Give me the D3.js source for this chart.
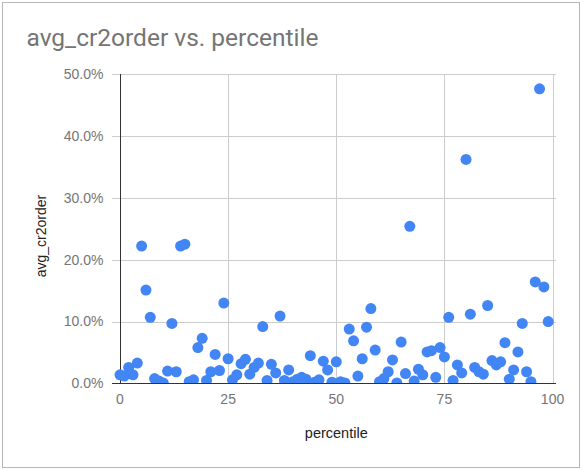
<!DOCTYPE html>
<html>
<head>
<meta charset="utf-8">
<script src="https://cdn.jsdelivr.net/npm/d3@7"></script>
<style>
  html, body { margin: 0; padding: 0; background: #fff; }
  svg { display: block; }
</style>
</head>
<body>
<svg id="chart" width="583" height="470"></svg>
<script>
const percentile = d3.range(0, 100);
const avgCr2order = [
  1.4, 1.2, 2.6, 1.4, 3.3, 22.2, 15.1, 10.7, 0.8, 0.4,
  0.1, 2.0, 9.7, 1.9, 22.2, 22.5, 0.3, 0.6, 5.8, 7.3,
  0.5, 1.9, 4.7, 2.1, 13.0, 4.0, 0.6, 1.4, 3.2, 3.9,
  1.5, 2.6, 3.3, 9.2, 0.5, 3.1, 1.7, 10.9, 0.5, 2.2,
  0.3, 0.7, 1.0, 0.7, 4.5, 0.2, 0.6, 3.6, 2.2, 0.2,
  3.5, 0.3, 0.1, 8.8, 6.9, 1.2, 4.0, 9.1, 12.1, 5.4,
  0.3, 0.8, 1.9, 3.8, 0.1, 6.7, 1.6, 25.4, 0.4, 2.3,
  1.4, 5.1, 5.3, 1.0, 5.8, 4.3, 10.7, 0.5, 3.0, 1.7,
  36.2, 11.2, 2.6, 1.9, 1.5, 12.6, 3.7, 3.0, 3.5, 6.6,
  0.7, 2.2, 5.1, 9.7, 1.9, 0.3, 16.4, 47.6, 15.6, 10.0
];
const xTicks = [0, 25, 50, 75, 100];
const yTicks = [0, 10, 20, 30, 40, 50];
const titleText = "avg_cr2order vs. percentile";
const xTitle = "percentile";
const yTitle = "avg_cr2order";

(function () {
const data = percentile.map((p, i) => ({ x: p, y: avgCr2order[i] }));

const svg = d3.select("#chart");
const pLeft = 112, pRight = 556, pTop = 74, pBottom = 383.5;

const x = d3.scaleLinear().domain([-1.85, 100.8]).range([pLeft, pRight]);
const y = d3.scaleLinear().domain([0, 50]).range([pBottom, pTop]);

// outer frame
svg.append("rect")
  .attr("x", 2.5).attr("y", 2.5).attr("width", 577).attr("height", 465)
  .attr("fill", "#fff").attr("stroke", "#b7b7b7").attr("stroke-width", 1);

// title
svg.append("text")
  .attr("x", 26.5).attr("y", 46)
  .attr("font-family", "Roboto, sans-serif").attr("font-size", 24.5)
  .attr("fill", "#757575")
  .text(titleText);

// horizontal gridlines
svg.append("g").selectAll("line").data(yTicks.filter(d => d !== 0)).join("line")
  .attr("x1", pLeft).attr("x2", pRight)
  .attr("y1", d => Math.round(y(d)) + 0.5).attr("y2", d => Math.round(y(d)) + 0.5)
  .attr("stroke", "#cccccc").attr("stroke-width", 1);

// vertical gridlines
svg.append("g").selectAll("line").data(xTicks.filter(d => d !== 0)).join("line")
  .attr("x1", d => Math.round(x(d)) + 0.5).attr("x2", d => Math.round(x(d)) + 0.5)
  .attr("y1", pTop).attr("y2", pBottom)
  .attr("stroke", "#cccccc").attr("stroke-width", 1);

// y tick labels
svg.append("g").selectAll("text").data(yTicks).join("text")
  .attr("x", 103.5).attr("y", d => y(d) + 4.8)
  .attr("text-anchor", "end")
  .attr("font-family", "'Liberation Sans', Arial, sans-serif").attr("font-size", 14)
  .attr("fill", "#757575")
  .text(d => d3.format(".1f")(d) + "%");

// x tick labels
svg.append("g").selectAll("text").data(xTicks).join("text")
  .attr("x", d => x(d)).attr("y", 403.5)
  .attr("text-anchor", "middle")
  .attr("font-family", "'Liberation Sans', Arial, sans-serif").attr("font-size", 14)
  .attr("fill", "#757575")
  .text(d => d);

// clip
svg.append("defs").append("clipPath").attr("id", "clip")
  .append("rect").attr("x", pLeft).attr("y", pTop - 10).attr("width", pRight - pLeft).attr("height", pBottom - pTop + 10);

// vertical baseline at x=0
svg.append("line")
  .attr("x1", Math.round(x(0)) + 0.5).attr("x2", Math.round(x(0)) + 0.5)
  .attr("y1", pTop).attr("y2", pBottom)
  .attr("stroke", "#333333").attr("stroke-width", 1);

// points
svg.append("g").attr("clip-path", "url(#clip)")
  .selectAll("circle").data(data).join("circle")
  .attr("cx", d => x(d.x)).attr("cy", d => y(d.y))
  .attr("r", 5.5)
  .attr("fill", "#4285f4");

// zero baseline
svg.append("line")
  .attr("x1", pLeft).attr("x2", pRight)
  .attr("y1", pBottom).attr("y2", pBottom)
  .attr("stroke", "#333333").attr("stroke-width", 1);

// axis titles
svg.append("text")
  .attr("x", (x(0) + x(100)) / 2).attr("y", 438)
  .attr("text-anchor", "middle")
  .attr("font-family", "'Liberation Sans', Arial, sans-serif").attr("font-size", 14.5)
  .attr("fill", "#222222")
  .text(xTitle);

svg.append("text")
  .attr("transform", "translate(45.5,236) rotate(-90)")
  .attr("text-anchor", "middle")
  .attr("font-family", "'Liberation Sans', Arial, sans-serif").attr("font-size", 14)
  .attr("fill", "#222222")
  .text(yTitle);
})();
</script>
</body>
</html>
